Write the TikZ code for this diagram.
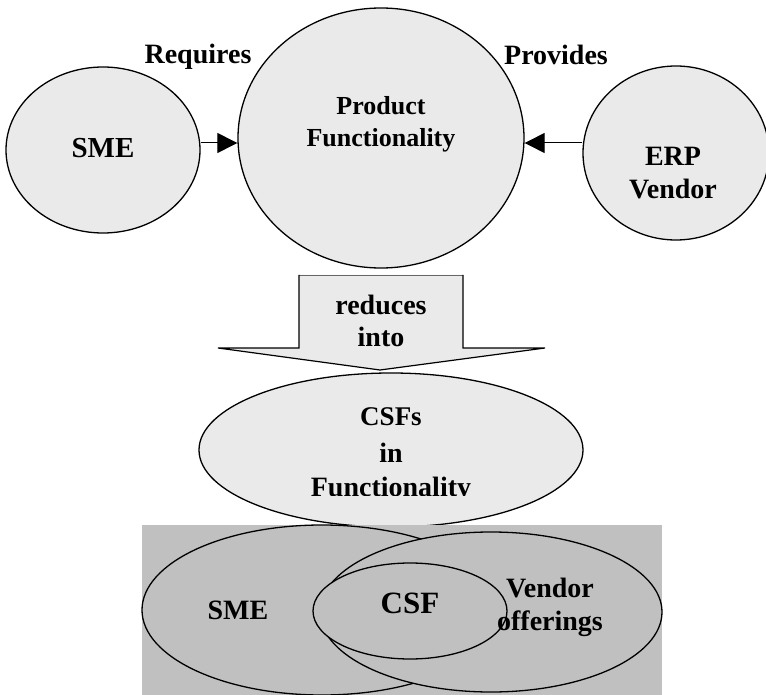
\documentclass[tikz,border=0pt]{standalone}
\usepackage{fontspec}
\setmainfont{Liberation Serif}
\usetikzlibrary{shapes.geometric,arrows.meta}
\definecolor{lightfill}{HTML}{EAEAEA}
\definecolor{venngray}{HTML}{C0C0C0}
\begin{document}
\begin{tikzpicture}[x=1pt,y=-1pt,
  txt/.style={font=\bfseries\fontsize{#1}{#1}\selectfont, align=center, inner sep=0pt},
  txt/.default=28,
  blob/.style={ellipse, draw, line width=1.3pt, fill=lightfill, inner sep=0pt},
  vennblob/.style={ellipse, draw, line width=1.3pt, fill=venngray, inner sep=0pt},
  conn/.style={line width=1pt, -{Triangle[length=20pt,width=20pt]}}]
\useasboundingbox (0,0) rectangle (766,695);

% upper row: the three parties
\node[blob, minimum width=194pt, minimum height=166pt] (sme) at (103,150) {};
\node[txt=29] (smet) at (103,148) {SME};
\node[blob, minimum width=286pt, minimum height=260pt] (pf) at (381,138) {};
\node[txt=26, text depth=0pt] (pft) at (381,121) {Product\\[6pt]Functionality};
\node[blob, minimum width=186pt, minimum height=174pt] (erp) at (676,153) {};
\node[txt=28] (erpt) at (673,173) {ERP\\[5pt]Vendor};

\draw[conn] ([yshift=7pt]sme.east) -- ([yshift=-5pt]pf.west);
\draw[conn] ([yshift=10pt]erp.west) -- ([yshift=-5pt]pf.east);
\node[txt=28] (req) at (198,57) {Requires};
\node[txt=28] (prov) at (556,55) {Provides};

% block arrow pointing down
\fill[lightfill] (299,275) -- (463,275) -- (463,348) -- (545,348) -- (380,370)
  -- (218,348) -- (299,348) -- cycle;
\draw[line width=0.6pt, black!60] (299,275) -- (463,275);
\draw[line width=1.2pt] (299,275) -- (299,348) -- (218,348) -- (380,370)
  -- (545,348) -- (463,348) -- (463,275);
\node[txt=28] (red) at (381,321) {reduces\\[4pt]into};

% critical success factors
\node[blob, minimum width=384pt, minimum height=154pt] (csfs) at (391,450) {};
\node[txt=27] (csfst) at (391,417) {CSFs};
\node[txt=28] (int) at (391,453) {in};
\begin{scope}
  \clip (200,470) rectangle (580,495);
  \node[txt=28] (funct) at (391,490) {Functionality};
\end{scope}

% overlap of requirements and offerings
\fill[venngray] (142,525) rectangle (662,695);
\node[vennblob, minimum width=360pt, minimum height=170pt] (smev) at (322,610) {};
\node[vennblob, minimum width=342pt, minimum height=160pt] (vend) at (491,612) {};
\node[vennblob, minimum width=194pt, minimum height=96pt] (csf) at (410,611) {};
\node[txt=28] (smevt) at (238,610) {SME};
\node[txt=31] (csft) at (410,603) {CSF};
\node[txt=28] (vendt) at (550,607) {Vendor\\[5pt]offerings};
\end{tikzpicture}
\end{document}
